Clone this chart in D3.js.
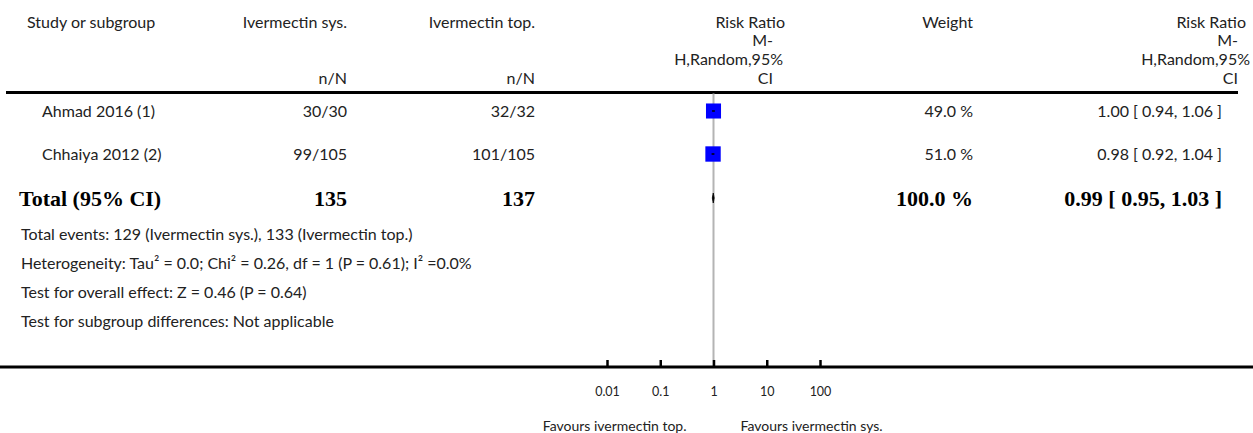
<!DOCTYPE html>
<html>
<head>
<meta charset="utf-8">
<script src="https://cdn.jsdelivr.net/npm/d3@7"></script>
<style>
  body { margin: 0; background: #fff; }
  text { font-family: Lato, "Open Sans", sans-serif; fill: #222; }
  .bold { font-family: "Liberation Serif", serif; font-weight: bold; fill: #000; }
</style>
</head>
<body>
<svg id="chart" width="1253" height="433"></svg>
<script>
// data
const studies = ["Ahmad 2016 (1)", "Chhaiya 2012 (2)"];
const sysEvents = ["30/30", "99/105"];
const topEvents = ["32/32", "101/105"];
const ratios = [1.00, 0.98];
const lowerCI = [0.94, 0.92];
const upperCI = [1.06, 1.04];
const weights = [49.0, 51.0];

const totalLabels = ["Total (95% CI)", "135", "137"];
const totalRatio = [0.99, 0.95, 1.03];
const totalWeight = 100.0;

const footnotes = [
    "Total events: 129 (Ivermectin sys.), 133 (Ivermectin top.)",
    "Heterogeneity: Tau\u00b2 = 0.0; Chi\u00b2 = 0.26, df = 1 (P = 0.61); I\u00b2 =0.0%",
    "Test for overall effect: Z = 0.46 (P = 0.64)",
    "Test for subgroup differences: Not applicable"
];

const tickValues = [0.01, 0.1, 1, 10, 100];
const favours = ["Favours ivermectin top.", "Favours ivermectin sys."];
const rrHeader = ["Risk Ratio", "M-", "H,Random,95%", "CI"];

const svg = d3.select("#chart");
const width = 1253;

// columns
let studyX = 42;
let sysRight = 347;
let topRight = 535;
let weightRight = 973;
let rrRight = 1222;
let topLineY = 92.5;
let axisY = 367;
let rowY = [111, 154];
let totalY = 198;
let footY = [234, 263, 292, 321];

let x = d3.scaleLog().domain([0.01, 100]).range([607, 820]);

function fmt(v) { return v.toFixed(2); }

//header
let hdr = svg.append("g").attr("id", "header").style("font-size", "16px");
hdr.append("text").attr("x", 27).attr("y", 22).attr("dy", ".35em").text("Study or subgroup");
hdr.append("text").attr("x", sysRight).attr("y", 22).attr("dy", ".35em").attr("text-anchor", "end").text("Ivermectin sys.");
hdr.append("text").attr("x", topRight).attr("y", 22).attr("dy", ".35em").attr("text-anchor", "end").text("Ivermectin top.");
hdr.append("text").attr("x", sysRight).attr("y", 78).attr("dy", ".35em").attr("text-anchor", "end").text("n/N");
hdr.append("text").attr("x", topRight).attr("y", 78).attr("dy", ".35em").attr("text-anchor", "end").text("n/N");
hdr.append("text").attr("x", weightRight).attr("y", 22).attr("dy", ".35em").attr("text-anchor", "end").text("Weight");

let hdrRows = [22, 40, 59, 78];
let plotHdrRight = [785, 773, 783, 773];
let rrHdrRight = [1246, 1238, 1250, 1238];
hdr.selectAll("text.plotHdr")
    .data(rrHeader)
    .enter()
    .append("text")
    .attr("class", "plotHdr")
    .attr("x", function (d, i) { return plotHdrRight[i]; })
    .attr("y", function (d, i) { return hdrRows[i]; })
    .attr("dy", ".35em")
    .attr("text-anchor", "end")
    .text(function (d) { return d; });
hdr.selectAll("text.rrHdr")
    .data(rrHeader)
    .enter()
    .append("text")
    .attr("class", "rrHdr")
    .attr("x", function (d, i) { return rrHdrRight[i]; })
    .attr("y", function (d, i) { return hdrRows[i]; })
    .attr("dy", ".35em")
    .attr("text-anchor", "end")
    .text(function (d) { return d; });

svg.append("line")
    .attr("x1", 6).attr("x2", 1238)
    .attr("y1", topLineY).attr("y2", topLineY)
    .attr("stroke", "#000").attr("stroke-width", 3);

//reference line at 1
svg.append("line")
    .attr("x1", x(1)).attr("x2", x(1))
    .attr("y1", topLineY + 1).attr("y2", axisY)
    .attr("stroke", "#b4b4b4").attr("stroke-width", 2);

//study rows
let rows = svg.append("g").attr("id", "rows").style("font-size", "16px");
studies.forEach(function (s, i) {
    let y = rowY[i];
    rows.append("text").attr("x", studyX).attr("y", y).attr("dy", ".35em").text(s);
    rows.append("text").attr("x", sysRight).attr("y", y).attr("dy", ".35em").attr("text-anchor", "end").text(sysEvents[i]);
    rows.append("text").attr("x", topRight).attr("y", y).attr("dy", ".35em").attr("text-anchor", "end").text(topEvents[i]);
    rows.append("text").attr("x", weightRight).attr("y", y).attr("dy", ".35em").attr("text-anchor", "end").text(weights[i].toFixed(1) + " %");
    rows.append("text").attr("x", rrRight).attr("y", y).attr("dy", ".35em").attr("text-anchor", "end")
        .text(fmt(ratios[i]) + " [ " + fmt(lowerCI[i]) + ", " + fmt(upperCI[i]) + " ]");

    let side = Math.sqrt(weights[i]) * 2.15;
    rows.append("rect")
        .attr("x", x(ratios[i]) - side / 2)
        .attr("y", y - side / 2)
        .attr("width", side).attr("height", side)
        .attr("fill", "#0000ff");
    rows.append("line")
        .attr("x1", x(lowerCI[i])).attr("x2", x(upperCI[i]))
        .attr("y1", y).attr("y2", y)
        .attr("stroke", "#000").attr("stroke-width", 1.5);
});

//total row
let tot = svg.append("g").attr("id", "total").style("font-size", "22px");
tot.append("text").attr("class", "bold").attr("x", 19).attr("y", totalY).attr("dy", ".35em").text(totalLabels[0]);
tot.append("text").attr("class", "bold").attr("x", sysRight).attr("y", totalY).attr("dy", ".35em").attr("text-anchor", "end").text(totalLabels[1]);
tot.append("text").attr("class", "bold").attr("x", topRight).attr("y", totalY).attr("dy", ".35em").attr("text-anchor", "end").text(totalLabels[2]);
tot.append("text").attr("class", "bold").attr("x", weightRight).attr("y", totalY).attr("dy", ".35em").attr("text-anchor", "end").text(totalWeight.toFixed(1) + " %");
tot.append("text").attr("class", "bold").attr("x", rrRight).attr("y", totalY).attr("dy", ".35em").attr("text-anchor", "end")
    .text(fmt(totalRatio[0]) + " [ " + fmt(totalRatio[1]) + ", " + fmt(totalRatio[2]) + " ]");

let dh = 5;
tot.append("path")
    .attr("d", "M" + x(totalRatio[1]) + "," + totalY +
        "L" + x(totalRatio[0]) + "," + (totalY - dh) +
        "L" + x(totalRatio[2]) + "," + totalY +
        "L" + x(totalRatio[0]) + "," + (totalY + dh) + "Z")
    .attr("fill", "#000").attr("stroke", "#000").attr("stroke-width", 0.8);

//footnotes
svg.append("g").attr("id", "foot").style("font-size", "16px")
    .selectAll("text")
    .data(footnotes)
    .enter()
    .append("text")
    .attr("x", 21)
    .attr("y", function (d, i) { return footY[i]; })
    .attr("dy", ".35em")
    .text(function (d) { return d; });

//axis
svg.append("line")
    .attr("x1", 0).attr("x2", width)
    .attr("y1", axisY).attr("y2", axisY)
    .attr("stroke", "#000").attr("stroke-width", 3);

let axis = d3.axisBottom(x)
    .tickValues(tickValues)
    .tickSizeInner(-7)
    .tickSizeOuter(0)
    .tickPadding(20)
    .tickFormat(function (d) { return String(d); });

let axisG = svg.append("g")
    .attr("transform", "translate(0," + axisY + ")")
    .call(axis);
axisG.select(".domain").remove();
axisG.selectAll(".tick line").attr("stroke", "#000").attr("stroke-width", 2.5);
axisG.selectAll(".tick text")
    .style("font-family", "Lato, sans-serif")
    .style("font-size", "12.5px")
    .attr("fill", "#333");

let fav = svg.append("g").style("font-size", "14px");
fav.append("text").attr("x", x(1) - 27).attr("y", 426).attr("dy", ".35em").attr("text-anchor", "end").text(favours[0]);
fav.append("text").attr("x", x(1) + 27).attr("y", 426).attr("dy", ".35em").text(favours[1]);
</script>
</body>
</html>
